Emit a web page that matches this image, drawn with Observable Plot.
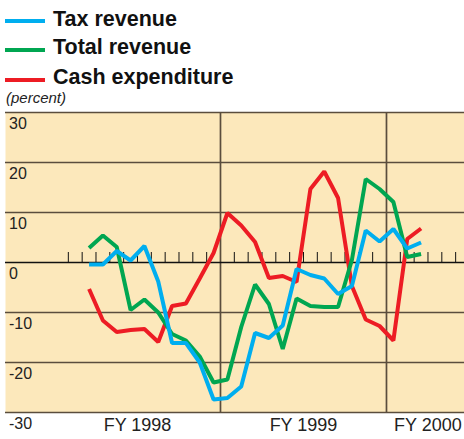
<!DOCTYPE html>
<html><head><meta charset="utf-8">
<script src="https://cdn.jsdelivr.net/npm/d3@7"></script>
<script src="https://cdn.jsdelivr.net/npm/@observablehq/plot@0.6"></script>
<style>
body{margin:0;background:#fff;font-family:"Liberation Sans",Arial,sans-serif;}
#wrap{position:relative;width:464px;height:439px;overflow:hidden;}
.leg{position:absolute;left:5px;height:29px;display:flex;align-items:center;font-weight:bold;font-size:21.5px;color:#111;white-space:nowrap;}
.sw{width:40px;height:4px;margin-right:8px;position:relative;top:2px;}
#unit{position:absolute;left:6px;top:90px;font-style:italic;font-size:15px;line-height:15px;color:#222;}
#chart{position:absolute;left:0;top:104px;}
</style>
</head><body>
<div id="wrap">
  <div id="legend"></div>
  <div id="unit">(percent)</div>
  <div id="chart"></div>
</div>
<script>
// ---- data ----
const seriesNames = ["Tax revenue", "Total revenue", "Cash expenditure"];
const seriesColors = ["#00aeef", "#00a651", "#ed1c24"];
// month index counted from start of FY 1998 (0 = first month of FY 1998)
const monthIndex = [2,3,4,5,6,7,8,9,10,11,12,13,14,15,16,17,18,19,20,21,22,23,24,25,26];
const taxRevenue = [-0.4,-0.4,2.3,0.4,3.3,-3.8,-16.1,-16.1,-20,-27.4,-27.1,-24.8,-14.1,-15.1,-12.6,-1.3,-2.5,-3.2,-6.3,-4.7,6.4,4.2,6.7,2.8,4.0];
const totalRevenue = [2.9,5.4,3.1,-9.5,-7.4,-10,-14.3,-15.6,-18.8,-24,-23.4,-12.9,-4.4,-8.3,-17.3,-7.2,-8.7,-8.9,-8.9,0.5,16.7,14.7,12.1,1.1,1.7];
const cashExpenditure = [-5.3,-11.6,-13.9,-13.5,-13.3,-15.9,-8.7,-8.2,-3.2,1.9,9.9,7.4,4.1,-3.1,-2.7,-3.9,14.7,18.2,12.9,-4.7,-11.4,-12.7,-15.6,4.7,6.8];
const yTicks = [30,20,10,0,-10,-20,-30];
const fyLabels = ["FY 1998","FY 1999","FY 2000"];
const fyLabelMonth = [6,18,27];
const fyBoundaries = [12,24];

// ---- legend ----
const legendTops = [4.5, 33.3, 63.3];
const legend = document.getElementById("legend");
seriesNames.forEach((n,i)=>{
  const d = document.createElement("div");
  d.className = "leg"; d.style.top = legendTops[i] + "px";
  d.innerHTML = `<span class="sw" style="background:${seriesColors[i]}"></span><span>${n}</span>`;
  legend.appendChild(d);
});

// ---- chart ----
const values = [taxRevenue, totalRevenue, cashExpenditure];
const rows = [];
values.forEach((arr, s) => arr.forEach((v, i) => rows.push({series: seriesNames[s], x: monthIndex[i] + 0.5, value: v})));
const monthTicks = d3.range(1, 30).filter(m => !fyBoundaries.includes(m));
const xDomain = [-3.542, 29.64];
const gridColor = "#5a4d3d";
const drawOrder = ["Cash expenditure", "Total revenue", "Tax revenue"];

const chart = Plot.plot({
  width: 464, height: 335,
  marginTop: 8, marginBottom: 27, marginLeft: 5, marginRight: 0,
  style: {fontFamily: "'Liberation Sans', Arial, sans-serif", background: "transparent"},
  x: {axis: null, domain: xDomain},
  y: {axis: null, domain: [-30, 30]},
  color: {domain: seriesNames, range: seriesColors},
  marks: [
    Plot.frame({fill: "#fce8bb", stroke: "none"}),
    Plot.ruleY(yTicks.filter(d => d !== 0), {stroke: gridColor, strokeWidth: 1.7}),
    Plot.ruleX(fyBoundaries, {stroke: gridColor, strokeWidth: 1.7}),
    Plot.ruleX(monthTicks, {y1: 0, y2: 2, stroke: "#111", strokeWidth: 1}),
    Plot.ruleY([0], {stroke: "#111", strokeWidth: 1.5}),
    Plot.text(yTicks, {x: xDomain[0], y: d => d, text: d => String(d), textAnchor: "start", dx: 3.5, dy: 11, fontSize: 16, fill: "#222"}),
    ...drawOrder.map(name => Plot.lineY(rows.filter(r => r.series === name), {
      x: "x", y: "value", stroke: "series", strokeWidth: 4, strokeLinejoin: "miter", strokeLinecap: "butt"
    })),
    Plot.text(fyLabels, {x: (d, i) => fyLabelMonth[i], text: d => d, frameAnchor: "bottom", dy: 18, fontSize: 18, fill: "#222"})
  ]
});
document.getElementById("chart").appendChild(chart);
</script>
</body></html>
